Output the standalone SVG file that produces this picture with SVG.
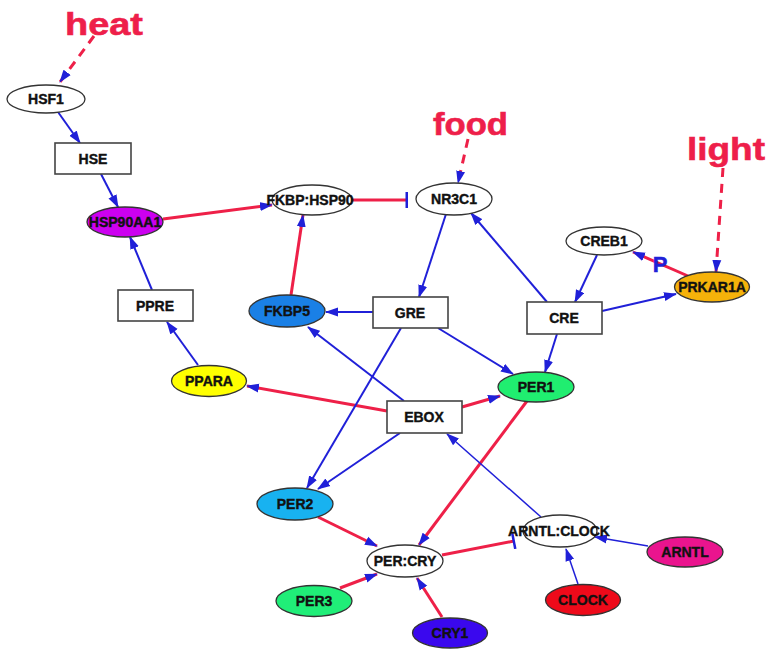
<svg xmlns="http://www.w3.org/2000/svg" width="766" height="649" viewBox="0 0 766 649">
<style>
.bg{fill:#fff}
.ell{stroke:#333;stroke-width:1.3}
.box{fill:#fff;stroke:#444;stroke-width:1.6}
.lbl{font-family:"Liberation Sans",Arial,sans-serif;font-weight:bold;font-size:14px;fill:#111;stroke:#111;stroke-width:0.4;text-anchor:middle;dominant-baseline:central}
.big{font-family:"Liberation Sans",Arial,sans-serif;font-weight:bold;font-size:32px;fill:#ee1f4a;stroke:#ee1f4a;stroke-width:0.6}
.b{stroke:#2020d8;stroke-width:2;fill:none}
.bt{stroke:#2020d8;stroke-width:1.5;fill:none}
.r{stroke:#ee2048;stroke-width:3;fill:none}
.d{stroke:#ee2048;stroke-width:3;fill:none;stroke-dasharray:9 7}
.a{marker-end:url(#arr)}
.t{marker-end:url(#bar)}
</style>
<defs>
<marker id="arr" markerUnits="userSpaceOnUse" markerWidth="14" markerHeight="10" viewBox="0 0 14 10" refX="12" refY="5" orient="auto">
<path d="M0,0.5 L13,5 L0,9.5 z" fill="#2020d8"/>
</marker>
<marker id="bar" markerUnits="userSpaceOnUse" markerWidth="4" markerHeight="16" viewBox="0 0 4 16" refX="2" refY="8" orient="auto">
<rect x="0.5" y="0" width="2.5" height="16" fill="#2020d8"/>
</marker>
</defs>
<rect class="bg" width="766" height="649"/>
<text class="big" x="65" y="35" textLength="78" lengthAdjust="spacingAndGlyphs">heat</text>
<text class="big" x="433" y="135" textLength="75" lengthAdjust="spacingAndGlyphs">food</text>
<text class="big" x="687" y="160" textLength="78" lengthAdjust="spacingAndGlyphs">light</text>
<g id="connectors">
<path class="d a" d="M94,36 L60,82"/>
<path class="b a" d="M58,112 L80,143"/>
<path class="b a" d="M101,174 L118,207"/>
<path class="r a" d="M163,219 L272,205"/>
<path class="r t" d="M352,200 L407,200"/>
<path class="d a" d="M468,139 L458,183"/>
<path class="b a" d="M446,214 L419,297"/>
<path class="b a" d="M547,302 L471,213"/>
<path class="b a" d="M597,255 L575,302"/>
<path class="r a" d="M688,276 L633,252"/>
<path class="b a" d="M602,311 L676,294"/>
<path class="d a" d="M723,168 L716,272"/>
<path class="b a" d="M373,312 L326,312"/>
<path class="r a" d="M291,295 L303,215"/>
<path class="b a" d="M152,290 L130,237"/>
<path class="b a" d="M198,365 L167,322"/>
<path class="r a" d="M387,411 L247,386"/>
<path class="b a" d="M404,401 L308,327"/>
<path class="b a" d="M438,328 L513,374"/>
<path class="b a" d="M557,334 L545,372"/>
<path class="r a" d="M462,407 L500,396"/>
<path class="b a" d="M401,328 L307,488"/>
<path class="b a" d="M400,433 L318,489"/>
<path class="r a" d="M527,401 L419,545"/>
<path class="bt a" d="M541,517 L447,434"/>
<path class="r a" d="M318,517 L377,546"/>
<path class="r a" d="M340,588 L377,574"/>
<path class="r a" d="M442,617 L417,578"/>
<path class="r t" d="M442,555 L514,541"/>
<path class="bt a" d="M648,546 L595,537"/>
<path class="bt a" d="M578,584 L566,549"/>
</g>
<text x="660" y="272" font-family="Liberation Sans,Arial,sans-serif" font-weight="bold" font-size="22" fill="#2020d8" stroke="#2020d8" stroke-width="0.5" text-anchor="middle">P</text>
<g id="HSF1"><ellipse class="ell" cx="46" cy="99" rx="39" ry="14" fill="#fff"/><text class="lbl" x="46" y="99">HSF1</text></g>
<g id="HSE"><rect class="box" x="55" y="143" width="76" height="31"/><text class="lbl" x="93" y="159">HSE</text></g>
<g id="HSP90AA1"><ellipse class="ell" cx="125" cy="222" rx="38" ry="15" fill="#cc00f0"/><text class="lbl" x="125" y="222">HSP90AA1</text></g>
<g id="FKBP_HSP90"><ellipse class="ell" cx="312" cy="200" rx="40" ry="15" fill="#fff"/><text class="lbl" x="310" y="200">FKBP:HSP90</text></g>
<g id="NR3C1"><ellipse class="ell" cx="454" cy="199" rx="38" ry="16" fill="#fff"/><text class="lbl" x="454" y="199">NR3C1</text></g>
<g id="CREB1"><ellipse class="ell" cx="604" cy="241" rx="38" ry="14" fill="#fff"/><text class="lbl" x="604" y="241">CREB1</text></g>
<g id="PRKAR1A"><ellipse class="ell" cx="712" cy="287" rx="37.5" ry="15" fill="#f5b20a"/><text class="lbl" x="712" y="287">PRKAR1A</text></g>
<g id="PPRE"><rect class="box" x="118" y="290" width="75" height="31"/><text class="lbl" x="155" y="306">PPRE</text></g>
<g id="FKBP5"><ellipse class="ell" cx="287" cy="311" rx="38" ry="16" fill="#1a80e6"/><text class="lbl" x="287" y="311">FKBP5</text></g>
<g id="GRE"><rect class="box" x="373" y="297" width="75" height="31"/><text class="lbl" x="410" y="313">GRE</text></g>
<g id="CRE"><rect class="box" x="527" y="302" width="75" height="32"/><text class="lbl" x="564" y="318">CRE</text></g>
<g id="PPARA"><ellipse class="ell" cx="209" cy="381" rx="37.5" ry="15.5" fill="#ffff00"/><text class="lbl" x="209" y="381">PPARA</text></g>
<g id="EBOX"><rect class="box" x="387" y="401" width="75" height="32"/><text class="lbl" x="424" y="417">EBOX</text></g>
<g id="PER1"><ellipse class="ell" cx="536" cy="387" rx="38" ry="15" fill="#20ee70"/><text class="lbl" x="536" y="387">PER1</text></g>
<g id="PER2"><ellipse class="ell" cx="295" cy="504" rx="38" ry="16" fill="#18b2f0"/><text class="lbl" x="295" y="504">PER2</text></g>
<g id="PER_CRY"><ellipse class="ell" cx="405" cy="561" rx="38" ry="16" fill="#fff"/><text class="lbl" x="405" y="561">PER:CRY</text></g>
<g id="ARNTL_CLOCK"><ellipse class="ell" cx="560" cy="531" rx="37" ry="16" fill="#fff"/><text class="lbl" x="559" y="531">ARNTL:CLOCK</text></g>
<g id="ARNTL"><ellipse class="ell" cx="685" cy="552" rx="38" ry="15" fill="#ea148e"/><text class="lbl" x="685" y="552">ARNTL</text></g>
<g id="PER3"><ellipse class="ell" cx="314" cy="601" rx="38" ry="15.5" fill="#20ee78"/><text class="lbl" x="314" y="601">PER3</text></g>
<g id="CLOCK"><ellipse class="ell" cx="583" cy="600" rx="37.5" ry="15.5" fill="#ee0a1a"/><text class="lbl" x="583" y="600">CLOCK</text></g>
<g id="CRY1"><ellipse class="ell" cx="450" cy="633" rx="37.5" ry="15" fill="#3a08ee"/><text class="lbl" x="450" y="633">CRY1</text></g>
</svg>
